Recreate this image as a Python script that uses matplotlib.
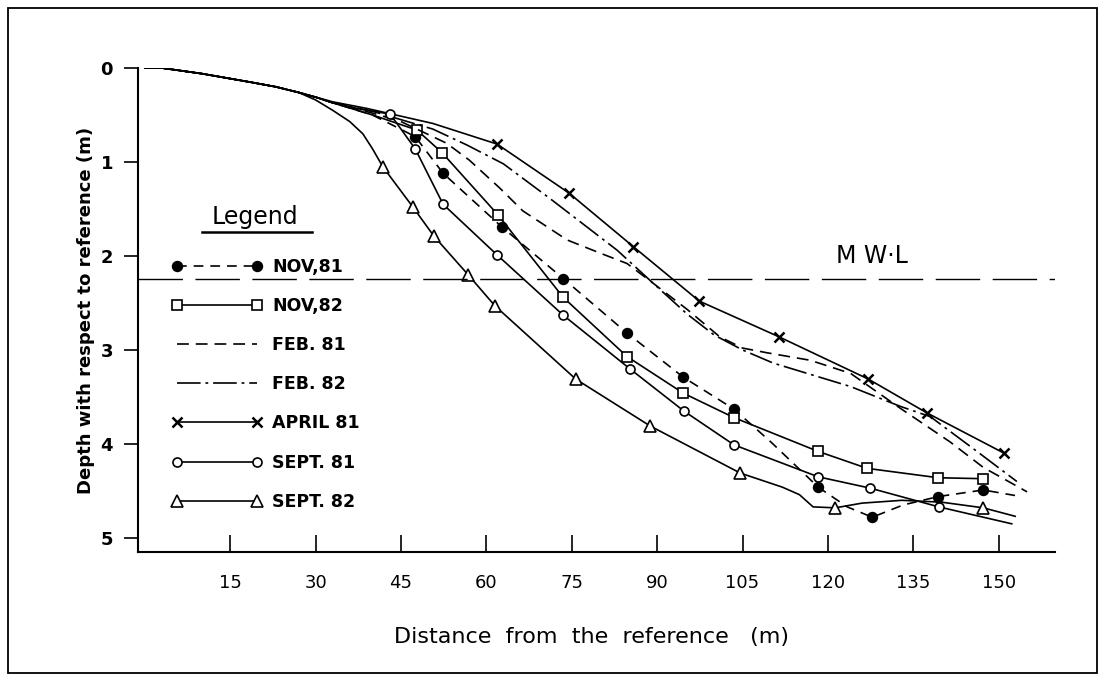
import matplotlib
matplotlib.use('Agg')
import matplotlib.pyplot as plt
from matplotlib.patches import Rectangle

plt.rcParams['font.family'] = ['DejaVu Sans']
plt.rcParams['lines.scale_dashes'] = False

# profile shared by every survey near the reference point
common_x = [0, 3, 10, 18.5, 23, 27]
common_y = [0, 0.0, 0.06, 0.15, 0.2, 0.26]

nov81_x = [30, 33, 40, 47.5, 52.4, 62.7, 73.5, 84.7, 94.6, 103.5, 110, 118.3, 123.4, 127.8, 133.2, 139.4, 147.3, 153]
nov81_y = [0.31, 0.37, 0.5, 0.73, 1.12, 1.69, 2.24, 2.82, 3.29, 3.63, 3.98, 4.46, 4.67, 4.78, 4.65, 4.56, 4.49, 4.55]
nov81_marks = [47.5, 52.4, 62.7, 73.5, 84.7, 94.6, 103.5, 118.3, 127.8, 139.4, 147.3]

nov82_x = [30, 33, 40, 47.8, 52.2, 62, 73.5, 84.7, 94.6, 103.5, 118.3, 126.9, 139.4, 147.3]
nov82_y = [0.31, 0.37, 0.5, 0.66, 0.9, 1.56, 2.44, 3.07, 3.46, 3.72, 4.08, 4.26, 4.36, 4.37]
nov82_marks = [47.8, 52.2, 62, 73.5, 84.7, 94.6, 103.5, 118.3, 126.9, 139.4, 147.3]

feb81_x = [30, 33, 40, 45, 53, 57, 62.4, 66.4, 74.2, 80, 84.7, 89.3, 95.3, 101, 105, 109.3, 116.9, 124, 128, 132.7, 141.5, 147.3, 155]
feb81_y = [0.31, 0.37, 0.48, 0.57, 0.8, 0.98, 1.28, 1.52, 1.83, 1.97, 2.08, 2.29, 2.57, 2.86, 2.98, 3.03, 3.11, 3.25, 3.42, 3.62, 3.98, 4.25, 4.51]

feb82_x = [30, 33, 40, 50.6, 56.6, 63, 71.2, 83, 89.3, 95.3, 100, 105, 110.4, 124, 132.7, 138, 146.2, 153.2]
feb82_y = [0.31, 0.37, 0.46, 0.65, 0.82, 1.02, 1.39, 1.94, 2.29, 2.62, 2.84, 3.0, 3.14, 3.39, 3.6, 3.71, 4.08, 4.4]

apr81_x = [30, 33, 39, 50.6, 61.9, 74.5, 85.8, 97.4, 111.4, 127.1, 137.4, 151]
apr81_y = [0.31, 0.36, 0.43, 0.59, 0.81, 1.33, 1.9, 2.48, 2.86, 3.31, 3.67, 4.1]
apr81_marks = [61.9, 74.5, 85.8, 97.4, 111.4, 127.1, 137.4, 151]

sep81_x = [30, 33, 38, 43.1, 47.5, 52.4, 61.9, 73.5, 85.2, 94.7, 103.5, 118.3, 127.4, 139.5, 152.3]
sep81_y = [0.31, 0.37, 0.44, 0.49, 0.86, 1.45, 1.99, 2.63, 3.2, 3.65, 4.01, 4.35, 4.47, 4.67, 4.85]
sep81_marks = [43.1, 47.5, 52.4, 61.9, 73.5, 85.2, 94.7, 103.5, 118.3, 127.4, 139.5]

sep82_x = [30, 33, 36, 38.3, 40, 41.8, 47.1, 50.8, 56.8, 61.5, 75.7, 88.8, 104.6, 112, 115, 117.4, 121.3, 126, 133, 140, 147.3, 152.9]
sep82_y = [0.34, 0.45, 0.57, 0.7, 0.86, 1.05, 1.48, 1.79, 2.2, 2.53, 3.31, 3.81, 4.31, 4.46, 4.54, 4.67, 4.68, 4.63, 4.6, 4.62, 4.68, 4.77]
sep82_marks = [41.8, 47.1, 50.8, 56.8, 61.5, 75.7, 88.8, 104.6, 121.3, 147.3]

mwl_depth = 2.25
x_ticks = [15, 30, 45, 60, 75, 90, 105, 120, 135, 150]
y_ticks = [0, 1, 2, 3, 4, 5]


def marker_idx(xs, marks):
    return [i for i, v in enumerate(xs) if v in marks]


fig = plt.figure(figsize=(11.05, 6.8), dpi=100)
ax = fig.add_axes([138 / 1105, 1 - 552 / 680, (1055 - 138) / 1105, (552 - 68) / 680])

series = [
    ('NOV,81', nov81_x, nov81_y, nov81_marks, dict(marker='o', mfc='black', ms=7, dashes=(7, 5))),
    ('NOV,82', nov82_x, nov82_y, nov82_marks, dict(marker='s', mfc='white', ms=7.5, ls='-')),
    ('FEB. 81', feb81_x, feb81_y, [], dict(dashes=(8.5, 5))),
    ('FEB. 82', feb82_x, feb82_y, [], dict(dashes=(17, 3.5, 2, 3.5))),
    ('APRIL 81', apr81_x, apr81_y, apr81_marks, dict(marker='x', ms=7, mew=1.8, ls='-')),
    ('SEPT. 81', sep81_x, sep81_y, sep81_marks, dict(marker='o', mfc='white', ms=6.5, ls='-')),
    ('SEPT. 82', sep82_x, sep82_y, sep82_marks, dict(marker='^', mfc='white', ms=8.5, ls='-')),
]

handles = []
for label, xs, ys, marks, style in series:
    full_x = common_x + xs
    full_y = common_y + ys
    idx = marker_idx(full_x, marks)
    kw = dict(color='black', lw=1.2, mec='black', mew=style.pop('mew', 1.2))
    kw.update(style)
    if idx:
        kw['markevery'] = idx
    line, = ax.plot(full_x, full_y, label=label, **kw)
    handles.append(line)

# mean water level
ax.axhline(mwl_depth, color='black', lw=1.0, dashes=(32, 9))
ax.text(127.8, mwl_depth - 0.12, 'M W\u00b7L', fontsize=17, ha='center', va='bottom')

ax.set_xlim(-1.2, 159.9)
ax.set_ylim(5.15, 0)
ax.set_xticks(x_ticks)
ax.set_yticks(y_ticks)
ax.tick_params(axis='x', direction='in', length=12, width=1.2, pad=16, labelsize=13)
ax.tick_params(axis='y', direction='out', length=10, width=1.2, pad=8, labelsize=13)
for t in ax.get_yticklabels():
    t.set_fontweight('bold')
for s in ['top', 'right']:
    ax.spines[s].set_visible(False)
for s in ['left', 'bottom']:
    ax.spines[s].set_linewidth(1.5)

ax.set_xlabel('Distance  from  the  reference   (m)', fontsize=16)
ax.xaxis.set_label_coords(0.495, -0.155)
ax.set_ylabel('Depth with respect to reference (m)', fontsize=13, fontweight='bold')
ax.yaxis.set_label_coords(-0.047, 0.5)

leg = ax.legend(handles=handles, loc='upper left', numpoints=2, frameon=False,
                handlelength=5.2, handletextpad=0.6, labelspacing=1.22, borderpad=0,
                fontsize=12.5, bbox_to_anchor=(163 / 1105, 1 - 249 / 680),
                bbox_transform=fig.transFigure)
for t in leg.get_texts():
    t.set_fontweight('bold')

# legend heading with underline
fig.text(255 / 1105, 1 - 217 / 680, 'Legend', fontsize=17, ha='center', va='center')
fig.add_artist(plt.Line2D([202 / 1105, 312 / 1105], [1 - 232 / 680, 1 - 232 / 680],
                          color='black', lw=1.8, transform=fig.transFigure))

# outer frame of the figure
fig.add_artist(Rectangle((8 / 1105, 7 / 680), 1089 / 1105, 665 / 680, fill=False,
                         lw=1.3, ec='black', transform=fig.transFigure))

fig.savefig('out.png', dpi=100)
